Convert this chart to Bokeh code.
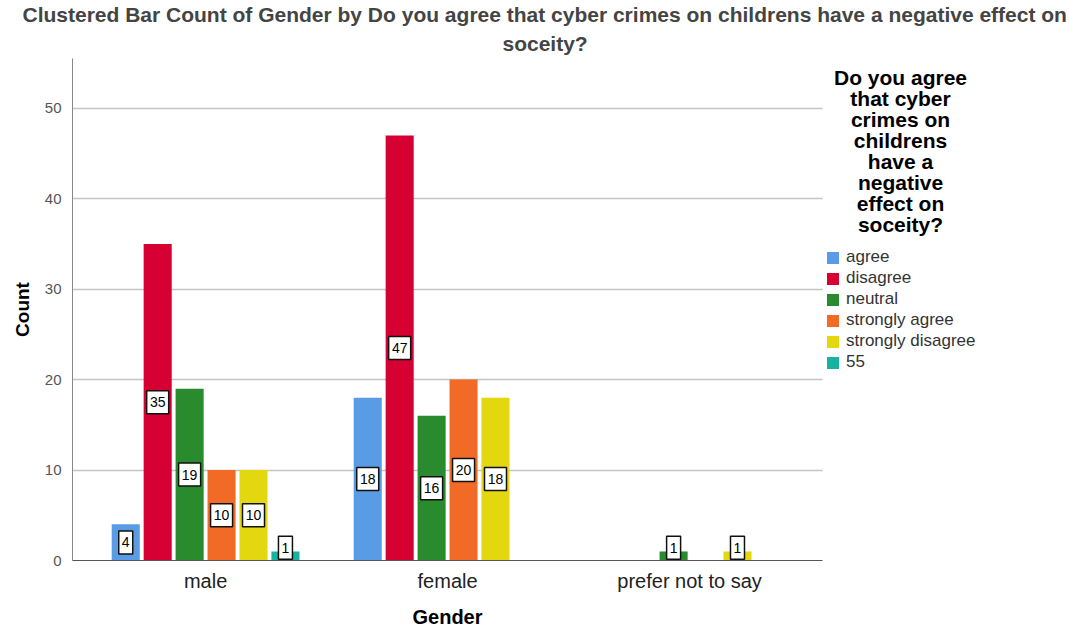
from bokeh.plotting import figure
from bokeh.models import (ColumnDataSource, Range1d, Label, BoxAnnotation,
                          Legend, LegendItem, Title, FixedTicker)
from bokeh.core.properties import value
from bokeh.transform import dodge
from bokeh.embed import file_html
from bokeh.resources import INLINE

# ---- data ----
genders = ["male", "female", "prefer not to say"]
responses = ["agree", "disagree", "neutral", "strongly agree", "strongly disagree", "55"]
agree = [4, 18, 0]
disagree = [35, 47, 0]
neutral = [19, 16, 1]
strongly_agree = [10, 20, 0]
strongly_disagree = [10, 18, 1]
val_55 = [1, 0, 0]
series = [agree, disagree, neutral, strongly_agree, strongly_disagree, val_55]
colors = ["#5a9be5", "#d60032", "#2a8a2e", "#f26b26", "#e3d80f", "#17b3a0"]
y_ticks = [0, 10, 20, 30, 40, 50]
title_line1 = "Clustered Bar Count of Gender  by Do you agree that cyber crimes on childrens have a negative effect on"
title_line2 = "soceity?"
x_title = "Gender"
y_title = "Count"
legend_title_lines = ["Do you agree", "that cyber", "crimes on", "childrens", "have a",
                      "negative", "effect on", "soceity?"]

FONT = "Liberation Sans"

X_START, X_AXIS_END, X_END = -0.55, 2.55, 3.57

p = figure(width=1069, height=636,
           x_range=Range1d(X_START, X_END),
           y_range=Range1d(0, 55.5),
           min_border_left=72, min_border_right=0, min_border_top=57, min_border_bottom=76,
           toolbar_location=None, output_backend="svg")

p.title.text = title_line1
p.title.align = "left"
p.title.offset = -50
p.title.text_font = FONT
p.title.text_font_size = "21px"
p.title.text_font_style = "bold"
p.title.standoff = 0
t2 = Title(text=title_line2, align="left", offset=430, text_font=FONT,
           text_font_size="21px", text_font_style="bold", standoff=8)
p.add_layout(t2, "above")

slot = 0.132
bar_w = 0.116
n = len(responses)
renderers = []
for i, (name, vals, col) in enumerate(zip(responses, series, colors)):
    g = [k for k, v in enumerate(vals) if v > 0]
    c = [v for v in vals if v > 0]
    lab = [str(v) for v in c]
    src = ColumnDataSource(dict(gi=g, count=c, label=lab,
                                label_y=[max(v / 2, 1.4) for v in c],
                                box_w=[8 * len(s) + 6 for s in lab]))
    off = (i - (n - 1) / 2) * slot
    xd = dodge("gi", off)
    r = p.vbar(x=xd, top="count", width=bar_w, source=src, fill_color=col, line_color=None)
    renderers.append(r)
    p.rect(x=xd, y="label_y", width="box_w", height=23, width_units="screen",
           height_units="screen", source=src, fill_color="white",
           line_color="#111111", line_width=1.5)
    p.text(x=xd, y="label_y", text="label", source=src, text_align="center",
           text_baseline="middle", text_font=value(FONT), text_font_size="14px",
           text_color="black")

# limit grid / axis extent to the plotting region (legend sits to the right)
if "cross_bounds" in p.ygrid[0].properties():
    p.ygrid.cross_bounds = (X_START, X_AXIS_END)
else:
    p.add_layout(BoxAnnotation(left=X_AXIS_END, fill_color="white", fill_alpha=1,
                               line_color=None, level="underlay"))
p.xaxis.bounds = (X_START, X_AXIS_END)

legend = Legend(items=[LegendItem(label=nm, renderers=[r]) for nm, r in zip(responses, renderers)],
                location=(753, 188), padding=0, margin=0, spacing=1,
                glyph_height=15, glyph_width=15, label_standoff=6, label_height=15,
                label_text_font=FONT, label_text_font_size="17px", label_text_color="#333333",
                border_line_color=None, background_fill_alpha=0)
p.add_layout(legend)

for k, line in enumerate(legend_title_lines):
    p.add_layout(Label(x=828, y=483 - 21 * k, x_units="screen", y_units="screen",
                       text=line, text_align="center", text_baseline="middle",
                       text_font=FONT, text_font_size="21px", text_font_style="bold",
                       text_color="black"))

p.yaxis.ticker = FixedTicker(ticks=y_ticks)
p.yaxis.major_label_text_font = FONT
p.yaxis.major_label_text_font_size = "15px"
p.yaxis.major_label_text_color = "#555555"
p.yaxis.axis_line_color = "#888888"
p.yaxis.major_tick_line_color = None
p.yaxis.minor_tick_line_color = None
p.yaxis.major_label_standoff = 5
p.yaxis.axis_label = y_title
p.yaxis.axis_label_text_font = FONT
p.yaxis.axis_label_text_font_size = "19px"
p.yaxis.axis_label_text_font_style = "bold"
p.yaxis.axis_label_text_color = "black"
p.yaxis.axis_label_standoff = 9

p.xaxis.ticker = FixedTicker(ticks=list(range(len(genders))))
p.xaxis.major_label_overrides = {k: g for k, g in enumerate(genders)}
p.xaxis.axis_line_color = "#555555"
p.xaxis.major_tick_line_color = None
p.xaxis.minor_tick_line_color = None
p.xaxis.major_label_text_font = FONT
p.xaxis.major_label_text_font_size = "20px"
p.xaxis.major_label_text_color = "#222222"
p.xaxis.major_label_standoff = 3

# x-axis title centred under the plotting region (not under the legend)
p.add_layout(Title(text=x_title, align="left", offset=340, text_font=FONT,
                   text_font_size="20px", text_font_style="bold", text_color="black",
                   standoff=18), "below")

p.xgrid.grid_line_color = None
p.ygrid.grid_line_color = "#c4c4c4"
p.ygrid.grid_line_width = 1.5
p.outline_line_color = None

open("out.html", "w").write(file_html(p, INLINE))
